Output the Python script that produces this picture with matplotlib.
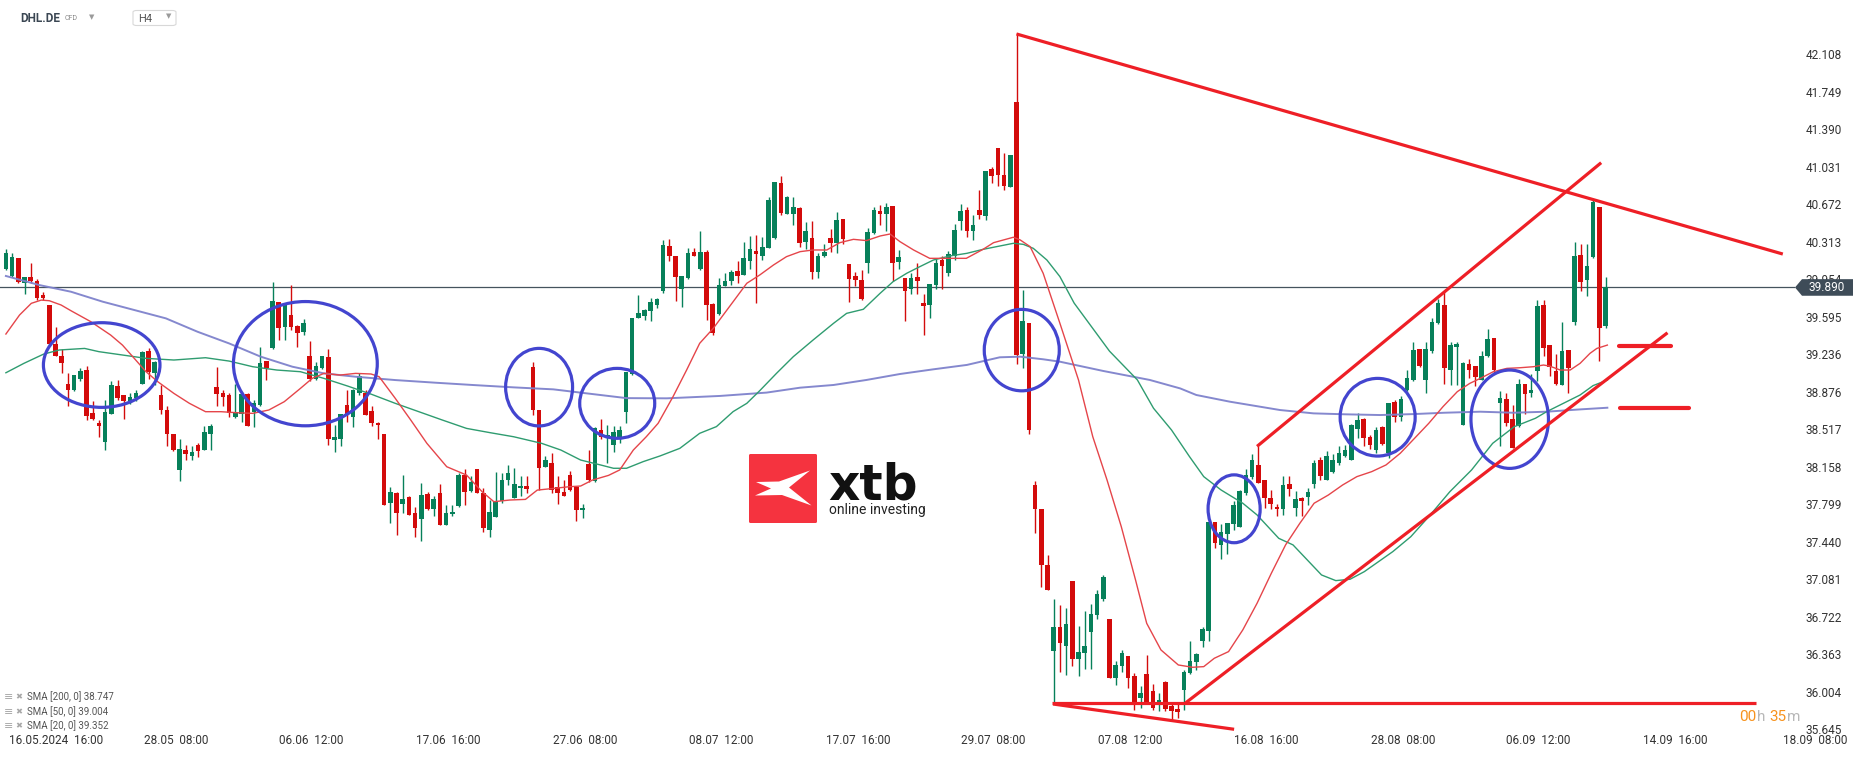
import matplotlib
matplotlib.use("Agg")
import matplotlib.pyplot as plt
from matplotlib.patches import Ellipse, Polygon, FancyBboxPatch
import numpy as np

# ---------------- data ----------------
opens = [40.07,40.00,40.17,39.93,39.99,39.95,39.82,39.72,39.35,39.23,38.97,38.91,39.01,39.10,38.69,38.59,38.41,38.68,38.95,38.86,
         38.80,38.83,38.97,39.28,39.07,38.86,38.72,38.49,38.14,38.33,38.28,38.38,38.33,38.49,38.94,38.88,38.86,38.65,38.68,38.87,
         38.70,38.76,39.19,39.31,39.75,39.51,39.63,39.52,39.46,39.23,39.01,39.12,39.22,38.43,38.44,38.76,38.65,38.88,38.88,38.71,
         38.59,38.49,37.83,37.92,37.82,37.88,37.73,37.67,37.91,37.77,37.92,37.61,37.72,37.80,38.09,37.94,38.15,37.92,37.57,37.69,
         37.84,38.05,37.87,37.97,37.99,39.13,38.72,38.17,38.21,37.98,37.93,38.09,37.98,37.76,38.20,38.04,38.52,38.45,38.38,38.46,
         38.70,39.06,39.60,39.62,39.66,39.72,39.86,40.29,40.19,39.88,39.98,40.23,40.07,40.23,39.73,39.64,39.90,39.95,40.05,40.01,
         40.14,40.24,40.19,40.27,40.36,40.89,40.59,40.59,40.65,40.33,40.36,40.04,40.19,40.36,40.32,40.55,40.11,40.00,39.96,40.12,
         40.41,40.62,40.59,40.67,40.13,39.98,39.88,39.99,39.74,39.72,39.91,40.15,40.03,40.19,40.53,40.63,40.43,40.63,40.57,41.02,
         41.23,40.97,40.85,41.67,39.25,39.55,38.00,37.77,37.23,36.41,36.64,36.46,37.08,36.33,36.39,36.59,36.75,36.91,36.71,36.15,
         36.26,36.36,36.17,35.96,36.19,36.02,35.89,36.11,35.88,35.85,36.03,36.20,36.30,36.50,36.60,37.64,37.42,37.53,37.62,37.60,
         37.92,38.07,38.19,38.05,37.87,37.79,37.77,38.01,37.78,37.87,37.88,38.01,38.24,38.05,38.12,38.21,38.28,38.24,38.53,38.63,
         38.46,38.33,38.55,38.30,38.79,38.65,38.91,39.00,39.30,39.00,39.28,39.55,39.72,39.10,39.32,38.57,39.16,39.14,39.00,39.23,
         39.41,38.78,38.82,38.63,38.56,38.97,38.88,39.09,39.72,39.34,39.09,38.96,39.29,39.56,40.20,39.96,40.18,40.66,39.52]
highs = [40.26,40.22,40.17,39.99,40.12,39.97,39.85,39.72,39.51,39.30,39.07,39.05,39.12,39.14,38.80,38.62,38.81,38.99,39.00,38.86,
         38.88,38.91,39.28,39.31,39.19,38.96,38.75,38.49,38.44,38.38,38.37,38.40,38.56,38.58,39.13,38.91,38.88,38.97,38.89,38.88,
         38.81,39.32,39.19,39.94,39.75,39.73,39.91,39.53,39.59,39.38,39.18,39.23,39.30,38.57,38.68,38.91,38.92,39.07,38.91,38.75,
         38.60,38.49,37.98,37.93,38.09,37.89,37.79,38.02,37.93,37.89,38.01,37.81,37.81,38.11,38.15,38.08,38.15,37.97,37.85,38.12,
         38.11,38.19,38.16,38.08,38.08,39.18,38.72,38.28,38.30,38.08,38.05,38.13,37.99,37.82,38.33,38.55,38.63,38.57,38.56,38.56,
         39.08,39.60,39.82,39.68,39.79,39.79,40.34,40.35,40.19,40.00,40.27,40.27,40.43,40.25,39.74,39.98,40.03,40.06,40.14,40.33,
         40.38,40.39,40.37,40.76,40.90,40.96,40.77,40.76,40.66,40.52,40.53,40.22,40.31,40.45,40.61,40.55,40.11,40.04,40.06,40.46,
         40.66,40.68,40.70,40.67,40.25,39.98,40.03,40.12,39.83,39.92,40.16,40.19,40.24,40.50,40.69,40.66,40.58,40.82,41.01,41.04,
         41.23,41.18,41.16,42.33,39.87,39.55,38.04,37.77,37.33,36.91,36.85,36.82,37.08,36.65,36.79,36.86,36.99,37.14,36.71,36.31,
         36.42,36.36,36.20,36.07,36.37,36.09,36.01,36.12,35.92,35.91,36.23,36.50,36.39,36.64,37.64,37.64,37.62,37.63,37.84,37.95,
         38.15,38.29,38.37,38.05,37.95,37.82,38.08,38.08,37.94,37.88,37.97,38.24,38.27,38.32,38.29,38.37,38.38,38.58,38.69,38.64,
         38.48,38.55,38.56,38.78,38.81,38.85,39.10,39.37,39.30,39.37,39.60,39.78,39.85,39.37,39.37,39.18,39.20,39.14,39.28,39.49,
         39.41,38.90,38.88,38.76,39.01,38.97,39.06,39.77,39.77,39.34,39.25,39.56,39.29,40.33,40.31,40.31,40.73,40.66,39.99]
lows = [40.06,39.99,39.93,39.83,39.93,39.77,39.77,39.34,39.23,39.07,38.75,38.90,38.99,38.62,38.62,38.46,38.33,38.68,38.81,38.63,
        38.77,38.80,38.97,39.01,38.96,38.68,38.37,38.32,38.04,38.24,38.24,38.27,38.33,38.33,38.75,38.75,38.65,38.64,38.60,38.56,
        38.55,38.75,39.00,39.30,39.39,39.39,39.48,39.32,39.43,38.99,39.00,39.11,38.38,38.31,38.37,38.60,38.55,38.86,38.67,38.56,
        38.44,37.81,37.63,37.52,37.73,37.71,37.50,37.46,37.76,37.70,37.61,37.61,37.70,37.79,37.81,37.93,37.92,37.55,37.50,37.69,
        37.83,38.00,37.87,37.89,37.92,38.67,37.95,38.17,37.92,37.82,37.89,37.94,37.65,37.68,38.03,38.03,38.44,38.21,38.31,38.40,
        38.59,39.05,39.60,39.58,39.57,39.69,39.84,40.14,39.76,39.70,39.97,40.19,40.06,39.58,39.43,39.63,39.90,39.91,39.93,40.01,
        40.07,39.74,40.15,40.27,40.35,40.58,40.59,40.49,40.28,40.26,39.97,39.98,40.18,40.23,40.22,40.31,39.75,39.90,39.77,40.03,
        40.40,40.49,40.43,39.95,40.07,39.57,39.83,39.83,39.43,39.60,39.88,39.88,40.00,40.15,40.44,40.37,40.34,40.55,40.54,40.89,
        40.86,40.82,40.85,39.16,39.12,38.49,37.54,37.02,36.99,35.91,36.21,36.18,36.26,36.17,36.24,36.24,36.71,36.89,36.15,36.08,
        36.21,36.05,35.84,35.86,35.91,35.84,35.83,35.83,35.75,35.77,35.84,36.19,36.23,36.45,36.50,37.39,37.29,37.34,37.57,37.60,
        37.90,38.06,38.02,37.78,37.77,37.70,37.71,37.89,37.70,37.70,37.81,37.97,38.05,38.05,38.11,38.19,38.27,38.24,38.45,38.37,
        38.34,38.30,38.38,38.26,38.60,38.61,38.90,38.99,39.13,38.88,39.26,39.54,38.97,38.96,38.96,38.57,39.02,38.95,39.00,39.22,
        39.07,38.37,38.56,38.35,38.55,38.68,38.84,38.99,39.23,39.04,38.96,38.96,38.88,39.53,39.86,39.81,40.17,39.19,39.50]
closes = [40.22,40.18,39.94,39.99,39.95,39.79,39.79,39.35,39.23,39.17,38.91,39.05,39.09,38.66,38.63,38.56,38.70,38.96,38.83,38.80,
          38.84,38.88,39.27,39.08,39.18,38.72,38.49,38.33,38.34,38.29,38.31,38.32,38.51,38.56,38.87,38.84,38.69,38.70,38.87,38.56,
          38.78,39.17,39.12,39.76,39.50,39.72,39.51,39.45,39.55,39.01,39.14,39.23,38.44,38.46,38.68,38.68,38.91,39.04,38.67,38.59,
          38.57,37.81,37.93,37.73,37.86,37.71,37.59,37.90,37.77,37.86,37.61,37.73,37.74,38.09,37.93,38.03,37.92,37.59,37.74,37.84,
          38.05,38.11,38.01,37.99,37.96,38.72,38.16,38.24,37.95,37.92,37.89,37.95,37.76,37.78,38.05,38.54,38.46,38.48,38.51,38.52,
          39.08,39.60,39.65,39.67,39.75,39.78,40.30,40.19,39.99,40.00,40.22,40.19,40.23,39.72,39.45,39.91,39.95,40.04,40.00,40.17,
          40.26,40.21,40.28,40.73,40.90,40.60,40.76,40.66,40.32,40.43,40.04,40.19,40.23,40.32,40.54,40.35,39.97,39.96,39.78,40.42,
          40.63,40.59,40.66,40.12,40.18,39.86,39.98,39.95,39.71,39.92,40.12,40.10,40.21,40.44,40.62,40.43,40.49,40.58,41.01,40.96,
          40.97,40.86,41.16,39.24,39.57,38.52,37.77,37.23,36.99,36.64,36.48,36.67,36.33,36.40,36.46,36.76,36.95,37.12,36.15,36.27,
          36.39,36.15,35.92,36.01,35.92,35.86,35.94,35.85,35.83,35.82,36.21,36.31,36.38,36.62,37.64,37.44,37.55,37.63,37.81,37.94,
          38.09,38.24,38.02,37.87,37.82,37.77,38.00,37.96,37.86,37.84,37.93,38.21,38.08,38.28,38.24,38.30,38.33,38.57,38.62,38.45,
          38.38,38.52,38.39,38.78,38.65,38.82,39.02,39.29,39.14,39.30,39.56,39.74,39.12,39.34,39.35,39.17,39.10,39.03,39.23,39.40,
          39.10,38.83,38.59,38.35,38.97,38.87,38.91,39.71,39.31,39.13,38.97,39.28,39.12,40.19,39.94,40.10,40.71,39.50,39.89]

sma20_pos = [0,2.2,4.1,5.7,7.0,8.9,10.5,13.7,16.9,18.8,20.7,22.6,24.5,27.1,29.6,32.2,34.7,37.3,39.8,42.4,44.9,47.5,49.4,51.3,
             53.9,56.4,58.9,60.2,62.8,65.3,67.9,71.1,74.3,76.8,78.7,81.3,83.8,85.7,88.3,90.8,92.7,94.6,97.2,99.0,101.2,103.3,
             105.2,107.6,109.8,111.9,114.1,117.3,119.5,121.6,123.8,125.9,128.1,130.2,132.4,134.5,136.7,138.8,141.0,142.6,144.2,
             146.4,149.0,151.7,154.9,157.6,159.3,162.5,163.6,165.2,167.3,170.0,173.0,175.3,177.6,179.9,182.2,184.0,186.3,189.1,
             191.4,193.2,194.9,197.2,199.5,201.8,204.1,206.4,208.7,211.0,213.3,215.6,217.9,220.3,222.6,224.9,227.2,229.5,231.8,
             234.1,236.1,237.8,239.9,242.1,244.2,246.4,248.0,249.0,250.7,252.3,253.9,255.5,256.6,258.3]
sma20_val = [39.444,39.626,39.738,39.769,39.763,39.722,39.667,39.562,39.434,39.338,39.211,39.083,38.987,38.875,38.780,38.700,
             38.700,38.690,38.684,38.716,38.796,38.923,39.019,39.067,39.051,39.067,39.061,39.035,38.828,38.620,38.397,38.173,
             38.093,37.934,37.838,37.854,37.860,37.949,37.965,37.981,37.988,38.045,38.09,38.142,38.333,38.461,38.589,38.844,
             39.100,39.355,39.499,39.754,39.930,40.010,40.105,40.185,40.233,40.249,40.249,40.319,40.351,40.339,40.383,40.402,
             40.329,40.249,40.169,40.169,40.169,40.255,40.319,40.371,40.345,40.281,40.026,39.547,39.004,38.461,38.046,37.599,
             37.088,36.673,36.418,36.274,36.252,36.258,36.338,36.402,36.610,36.865,37.152,37.424,37.631,37.823,37.902,37.998,
             38.078,38.126,38.190,38.302,38.445,38.589,38.749,38.892,38.971,39.019,39.083,39.115,39.121,39.131,39.147,39.137,
             39.099,39.099,39.163,39.259,39.306,39.338]

sma50_pos = [0,2.9,6.1,8.6,12.7,15.0,18.8,22.6,27.1,32.2,36.0,39.8,43.7,47.5,51.3,55.1,59.0,62.8,66.6,70.4,74.3,78.1,81.9,
             86.4,89.5,92.7,95.9,98.0,100.1,102.8,105.5,108.7,111.9,114.6,117.3,119.5,121.6,124.3,127.0,130.2,133.5,135.6,
             138.3,141.0,143.1,145.3,147.4,149.6,152.3,155.0,157.6,160.3,162.5,164.1,165.7,167.9,170.0,172.3,178.0,182.5,
             185.1,188.0,190.9,193.2,196.0,199.5,201.8,205.3,207.6,209.9,212.2,214.5,216.8,219.1,221.4,223.7,226.6,229.5,
             232.9,236.4,239.8,243.3,246.7,248.5,251.2,253.9,256.0,258.3]
sma50_val = [39.073,39.163,39.252,39.291,39.306,39.275,39.243,39.211,39.195,39.217,39.185,39.131,39.099,39.083,39.019,38.946,
             38.866,38.780,38.700,38.620,38.540,38.499,38.460,38.397,38.333,38.237,38.19,38.158,38.158,38.222,38.276,38.349,
             38.493,38.557,38.701,38.780,38.902,39.068,39.227,39.387,39.547,39.642,39.681,39.834,39.946,40.026,40.089,40.153,
             40.192,40.217,40.255,40.287,40.313,40.303,40.265,40.153,39.994,39.74,39.28,39.004,38.733,38.525,38.270,38.078,
             37.950,37.823,37.711,37.487,37.424,37.280,37.136,37.082,37.095,37.168,37.264,37.360,37.503,37.695,37.934,38.142,
             38.397,38.557,38.637,38.700,38.780,38.860,38.95,39.003]

sma200_pos = [0,5.4,10.5,15.6,20.7,25.8,30.9,36.0,41.1,46.2,51.3,56.4,62.8,69.2,75.5,81.9,88.3,94.6,100.1,106.6,115.2,
              122.7,128.1,133.5,138.8,144.2,149.6,155.0,160.3,163.6,167.3,170.0,177.0,184.5,189.4,192.0,197.4,205.5,210.9,
              216.0,221.6,227.0,232.0,237.8,243.1,248.5,253.9,258.3]
sma200_val = [40.0,39.913,39.849,39.754,39.674,39.594,39.466,39.354,39.227,39.131,39.067,39.035,39.003,38.978,38.955,38.933,
              38.914,38.869,38.83,38.828,38.851,38.883,38.930,38.956,39.004,39.061,39.106,39.148,39.221,39.227,39.202,39.179,
              39.09,39.004,38.923,38.860,38.796,38.716,38.684,38.675,38.668,38.677,38.69,38.700,38.690,38.700,38.722,38.738]

price_ticks = ["42.108","41.749","41.390","41.031","40.672","40.313","39.954","39.595","39.236","38.876","38.517",
               "38.158","37.799","37.440","37.081","36.722","36.363","36.004","35.645"]
time_labels = ["16.05.2024  16:00","28.05  08:00","06.06  12:00","17.06  16:00","27.06  08:00","08.07  12:00",
               "17.07  16:00","29.07  08:00","07.08  12:00","16.08  16:00","28.08  08:00","06.09  12:00","14.09  16:00"]
time_label_pos = [8.1,27.4,49.3,71.4,93.4,115.4,137.4,159.3,181.4,203.3,225.3,247.2,269.3]
last_price = 39.890
legend_lines = ["SMA [200, 0] 38.747", "SMA [50, 0] 39.004", "SMA [20, 0] 39.352"]

# ---------------- layout ----------------
W, H = 1866, 759
fig = plt.figure(figsize=(W / 100, H / 100), dpi=100)
fig.patch.set_facecolor("white")

PX0, PXS = 5.9, 6.2        # candle i -> pixel x
PY0, PYK = 55.9, 104.4     # price -> pixel y
def fx(px): return px / W
def fy(py): return 1 - py / H
def price_px(p): return PY0 + (42.108 - p) * PYK
def idx_px(i): return PX0 + PXS * i

AX_R, AX_B = 1795, 732
ax = fig.add_axes([0, 1 - AX_B / H, AX_R / W, AX_B / H])
ax.set_xlim((0 - PX0) / PXS, (AX_R - PX0) / PXS)
ax.set_ylim(42.108 - (AX_B - PY0) / PYK, 42.108 + PY0 / PYK)
ax.axis("off")

GREEN, RED = "#07805a", "#d30b0b"
o, h, l, c = map(np.array, (opens, highs, lows, closes))
idx = np.arange(len(o))
cols = np.where(c >= o, GREEN, RED)
ax.axhline(last_price, color="#45535e", lw=0.9, zorder=1)
ax.vlines(idx, l, h, colors=cols, lw=1.0, zorder=3)
ax.bar(idx, np.maximum(np.abs(c - o), 0.012), bottom=np.minimum(o, c), width=0.76,
       color=cols, linewidth=0, zorder=4)

ax.plot(sma200_pos, sma200_val, color="#7e82cc", lw=1.4, zorder=5, alpha=0.95)
ax.plot(sma50_pos, sma50_val, color="#2f9c70", lw=1.0, zorder=5)
ax.plot(sma20_pos, sma20_val, color="#e5454a", lw=1.0, zorder=5)

# annotations (blue circles)
BLUE = "#4345cf"
for cx, cy, w, hh in [(15.45, 39.147, 18.8, 0.811), (48.3, 39.16, 23.2, 1.19), (86.0, 38.935, 10.8, 0.743),
                      (98.6, 38.78, 12.1, 0.67), (163.85, 39.29, 12.1, 0.78), (198.1, 37.77, 8.4, 0.65),
                      (221.25, 38.647, 12.1, 0.744), (242.55, 38.628, 12.5, 0.942)]:
    ax.add_patch(Ellipse((cx, cy), w, hh, fill=False, ec=BLUE, lw=2.3, zorder=6))

# annotations (red trend lines)
LRED = "#ee1f26"
for (x1, y1), (x2, y2) in [((163.0, 42.318), (286.6, 40.21)), ((168.7, 35.91), (282.2, 35.91)),
                           ((168.9, 35.90), (198.1, 35.658)), ((190.3, 35.912), (268.0, 39.456)),
                           ((201.8, 38.368), (257.3, 41.085))]:
    ax.plot([x1, x2], [y1, y2], color=LRED, lw=2.3, zorder=7, solid_capstyle="butt")
for (x1, x2, y) in [(260.1, 268.5, 39.329), (260.3, 271.5, 38.732)]:
    ax.plot([x1, x2], [y, y], color=LRED, lw=3.0, zorder=7, solid_capstyle="round")

# ---------------- texts ----------------
F = "Roboto"
for t in price_ticks:
    fig.text(fx(1824), fy(price_px(float(t))), t, fontsize=8.5, family=F, color="#333333",
             ha="center", va="center")
# current price tag
ty = price_px(last_price)
tag = Polygon([(fx(1795), fy(ty)), (fx(1802), fy(ty - 8.3)), (fx(1853), fy(ty - 8.3)),
               (fx(1853), fy(ty + 8.3)), (fx(1802), fy(ty + 8.3))], closed=True,
              transform=fig.transFigure, fc="#3e4c58", ec="none", zorder=10)
fig.patches.append(tag)
fig.text(fx(1827), fy(ty), f"{last_price:.3f}", fontsize=8.5, family=F, color="white",
         ha="center", va="center", zorder=11)

for t, p in zip(time_labels, time_label_pos):
    fig.text(fx(idx_px(p)), fy(741), t, fontsize=8.5, family=F, color="#333333", ha="center", va="center")
fig.text(fx(1815), fy(741), "18.09  08:00", fontsize=8.5, family=F, color="#333333", ha="center", va="center")

# countdown
for px, s, colr in [(1739.5, "00", "#f7931e"), (1757.0, "h", "#b8b8b8"), (1769.5, "35", "#f7931e"),
                    (1787.0, "m", "#b8b8b8")]:
    fig.text(fx(px), fy(717), s, fontsize=11, family=F, color=colr, ha="left", va="center")

# indicator legend
for k, s in enumerate(legend_lines):
    yy = 697 + 14.5 * k
    fig.text(fx(4), fy(yy), "\u2261", fontsize=8, color="#a8a8a8", ha="left", va="center")
    fig.text(fx(15), fy(yy), "\u2716", fontsize=6, color="#a8a8a8", ha="left", va="center")
    fig.text(fx(27), fy(yy), s, fontsize=7, family=F, color="#555555", ha="left", va="center")

# header
fig.text(fx(20.5), fy(19), "DHL.DE", fontsize=8.5, family=F, fontweight="bold", color="#3b4753",
         ha="left", va="center")
fig.text(fx(65), fy(19), "CFD", fontsize=5, family=F, color="#8a8a8a", ha="left", va="center")
fig.text(fx(91.5), fy(17), "\u25bc", fontsize=5, color="#9a9a9a", ha="center", va="center")
hbox = FancyBboxPatch((fx(133), fy(25.5)), fx(176) - fx(133), fy(10.5) - fy(25.5),
                      boxstyle="round,pad=0,rounding_size=0.002", transform=fig.transFigure,
                      fc="white", ec="#d8d8d8", lw=0.8)
fig.patches.append(hbox)
fig.text(fx(138), fy(19.5), "H4", fontsize=8, family=F, color="#555555", ha="left", va="center")
fig.text(fx(168.5), fy(16.5), "\u25bc", fontsize=5, color="#9a9a9a", ha="center", va="center")

# xtb logo
lax = fig.add_axes([fx(749), fy(523), fx(817) - fx(749), fy(454) - fy(523)])
lax.set_xlim(0, 68); lax.set_ylim(69, 0); lax.axis("off")
lax.add_patch(FancyBboxPatch((0, 0), 68, 69, boxstyle="round,pad=0,rounding_size=1.5",
                             fc="#f5333f", ec="none"))
lax.add_patch(Polygon([(7, 28), (30, 27.5), (61, 16.5), (40, 33.5), (62.5, 51.5), (33, 41), (6, 41.5), (22, 34.5)],
                      closed=True, fc="white", ec="none"))
fig.text(fx(828), fy(500), "xtb", fontsize=35, family="DejaVu Sans", fontweight="bold", color="#111111",
         ha="left", va="baseline")
fig.text(fx(829), fy(514), "online investing", fontsize=10, family=F, color="#222222",
         ha="left", va="baseline")

fig.savefig("out.png", dpi=100, facecolor="white")
